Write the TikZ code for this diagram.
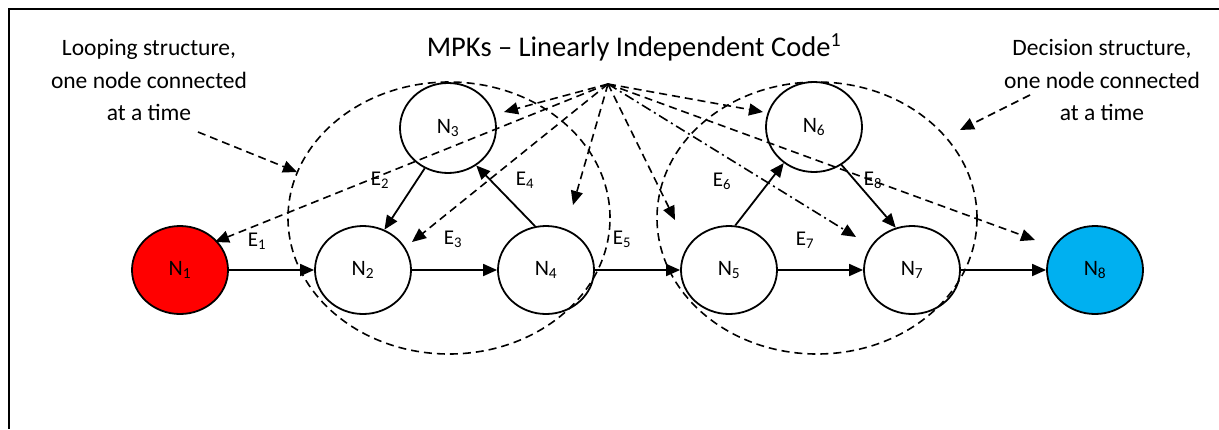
\documentclass[tikz,border=0pt]{standalone}
\usepackage{fontspec}
\setmainfont{Carlito}
\usetikzlibrary{arrows.meta,shapes.geometric}
\definecolor{nblue}{HTML}{00B0F0}
\begin{document}
\begin{tikzpicture}[x=1pt,y=-1pt,
  nd/.style={draw, line width=1.8pt, ellipse, minimum width=96pt, minimum height=88pt, inner sep=0pt, font=\fontsize{22}{26}\selectfont},
  elab/.style={inner sep=0pt, font=\fontsize{21}{25}\selectfont},
  ann/.style={align=center, inner sep=0pt, font=\fontsize{23.5}{32.5}\selectfont},
  tipa/.style={-{Triangle[length=14pt,width=12pt]}},
  sedge/.style={tipa, line width=1.8pt},
  dsh/.style={dash pattern=on 8pt off 5pt, line width=1.6pt},
  dedge/.style={tipa, dsh},
  ddedge/.style={tipa, line width=1.6pt, dash pattern=on 10pt off 4pt on 2pt off 4pt}
]
\useasboundingbox (0,0) rectangle (1219,429);
\draw[line width=2.5pt] (1219,9) -- (9,9) -- (9,429);

% nodes
\node[nd, fill=red] (N1) at (180,270) {N\textsubscript{1}};
\node[nd] (N2) at (363,270) {N\textsubscript{2}};
\node[nd, minimum height=90pt] (N3) at (448,128) {N\textsubscript{3}};
\node[nd] (N4) at (546,270) {N\textsubscript{4}};
\node[nd] (N5) at (729,270) {N\textsubscript{5}};
\node[nd, minimum height=90pt] (N6) at (814,127) {N\textsubscript{6}};
\node[nd] (N7) at (912,270) {N\textsubscript{7}};
\node[nd, fill=nblue] (N8) at (1095,270) {N\textsubscript{8}};

% texts
\node[font=\fontsize{28.5}{34}\selectfont, anchor=base, inner sep=0pt] (title) at (634,56) {MPKs – Linearly Independent Code\textsuperscript{1}};
\node[ann] (loop) at (149,80) {Looping structure,\\one node connected\\at a time};
\node[ann] (dec) at (1102,80) {Decision structure,\\one node connected\\at a time};

% edge labels
\node[elab] (e1) at (257,241) {E\textsubscript{1}};
\node[elab] (e2) at (380,180) {E\textsubscript{2}};
\node[elab] (e3) at (453,239) {E\textsubscript{3}};
\node[elab] (e4) at (525,180) {E\textsubscript{4}};
\node[elab] (e5) at (622,239) {E\textsubscript{5}};
\node[elab] (e6) at (722,181) {E\textsubscript{6}};
\node[elab] (e7) at (805,240) {E\textsubscript{7}};
\node[elab] (e8) at (873,180) {E\textsubscript{8}};

% solid edges
\draw[sedge] (N1.east) -- (N2.west);
\draw[sedge] (N2.east) -- (N4.west);
\draw[sedge] (N4.east) -- (N5.west);
\draw[sedge] (N5.east) -- (N7.west);
\draw[sedge] (N7.east) -- (N8.west);
\draw[sedge] (N3.240) -- (N2.62);
\draw[sedge] (N4.104) -- (N3.307);
\draw[sedge] (N5.82) -- (N6.230);
\draw[sedge] (N6.306) -- (N7.111);

% dashed structure ellipses
\draw[dsh] (449,218) ellipse [x radius=161pt, y radius=136pt];
\draw[dsh] (817,218) ellipse [x radius=160pt, y radius=136pt];

% hub connectors
\coordinate (hub) at (608,84);
\coordinate (t1) at (215,242);
\coordinate (t2) at (412,242);
\coordinate (t3) at (504,112);
\coordinate (t4) at (573,205);
\coordinate (t5) at (675,220);
\coordinate (t6) at (763,112);
\coordinate (t7) at (856,237);
\coordinate (t8) at (1035,240);
\draw[dedge] (hub) -- (t1);
\draw[dedge] (hub) -- (t2);
\draw[dedge] (hub) -- (t3);
\draw[dedge] (hub) -- (t4);
\draw[dedge] (hub) -- (t5);
\draw[dedge] (hub) -- (t6);
\draw[ddedge] (hub) -- (t7);
\draw[dedge] (hub) -- (t8);

% annotation arrows
\coordinate (la) at (198,132);
\coordinate (lat) at (297,172);
\coordinate (ra) at (1030,95);
\coordinate (rat) at (960,130);
\draw[dedge] (la) -- (lat);
\draw[dedge] (ra) -- (rat);
\end{tikzpicture}
\end{document}
